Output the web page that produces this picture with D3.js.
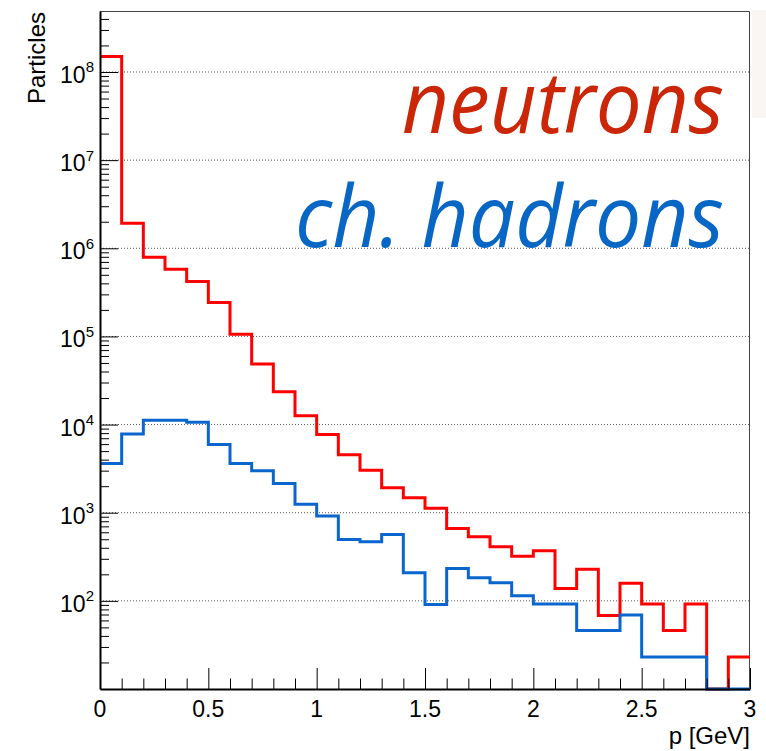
<!DOCTYPE html>
<html lang="en">

<head>
  <meta charset="utf-8">
  <title>Particles vs p</title>
  <script type="text/javascript" src="https://cdn.jsdelivr.net/npm/d3@7"></script>
  <style type="text/css">
    body { margin: 0; background: #fff; }
    text { font-family: "Liberation Sans", Arial, Helvetica, sans-serif; }
    text.name { font-family: "Open Sans", "Noto Sans", sans-serif; font-style: italic; }
  </style>
</head>

<body>
  <script type="text/javascript">
    // Bins: 30 bins of 0.1 GeV from 0 to 3
    const binLow = [0.0, 0.1, 0.2, 0.3, 0.4, 0.5, 0.6, 0.7, 0.8, 0.9,
                    1.0, 1.1, 1.2, 1.3, 1.4, 1.5, 1.6, 1.7, 1.8, 1.9,
                    2.0, 2.1, 2.2, 2.3, 2.4, 2.5, 2.6, 2.7, 2.8, 2.9];
    const binWidth = 0.1;

    const neutrons = [1.5e8, 1.92e6, 7.9e5, 5.8e5, 4.2e5, 2.43e5, 1.06e5, 4.86e4, 2.36e4, 1.26e4,
                      7700, 4540, 3040, 1920, 1480, 1120, 663, 533, 410, 321,
                      370, 138, 229, 68, 158, 92, 46, 92, 0, 23];
    const hadrons = [3620, 7800, 11200, 11200, 10600, 5960, 3620, 2990, 2150, 1250,
                     915, 498, 468, 567, 208, 91, 233, 183, 160, 114,
                     92, 92, 46, 46, 69, 23, 23, 23, 0, 0];

    const xMajor = [0, 0.5, 1, 1.5, 2, 2.5, 3];
    const xMajorLabels = ["0", "0.5", "1", "1.5", "2", "2.5", "3"];
    const yDecades = [1e2, 1e3, 1e4, 1e5, 1e6, 1e7, 1e8];
    const yExponents = ["2", "3", "4", "5", "6", "7", "8"];

    const w = 766;
    const h = 751;
    const padL = 100, padR = 750, padT = 11, padB = 689;

    const svg = d3.select("body")
      .append("svg")
      .attr("width", w)
      .attr("height", h);

    svg.append("rect").attr("width", w).attr("height", h).attr("fill", "#fff");

    // faint box peeking in on the right edge
    svg.append("rect")
      .attr("x", 752).attr("y", 10).attr("width", 14).attr("height", 108)
      .attr("fill", "#f9f6f3");

    const x = d3.scaleLinear().domain([0, 3]).range([padL, padR]);
    const y = d3.scaleLog().domain([10, Math.pow(10, 8.692)]).range([padB, padT]);

    // minor ticks on the log axis: 2..9 of each decade
    const yMinor = [];
    for (let e = 1; e <= 8; e++) {
      for (let m = 2; m <= 9; m++) {
        const v = m * Math.pow(10, e);
        if (v < y.domain()[1]) yMinor.push(v);
      }
    }
    const xMinor = d3.range(1, 30).map(i => i / 10).filter(v => Math.abs(v * 2 - Math.round(v * 2)) > 1e-6);

    // dotted grid at each decade
    svg.append("g")
      .selectAll("line")
      .data(yDecades)
      .enter()
      .append("line")
      .attr("x1", padL).attr("x2", padR)
      .attr("y1", d => y(d)).attr("y2", d => y(d))
      .attr("stroke", "#555")
      .attr("stroke-width", 1)
      .attr("stroke-dasharray", "1,2");

    // frame (top, right)
    svg.append("path")
      .attr("d", `M${padL},${padT + 0.5}H${padR - 0.5}V${padB}`)
      .attr("fill", "none")
      .attr("stroke", "#444")
      .attr("stroke-width", 1);

    // step outline of one histogram
    function stepPath(values) {
      const yv = v => v > 0 ? y(v) : padB;
      let d = "";
      values.forEach((v, i) => {
        const x0 = x(binLow[i]), x1 = x(binLow[i] + binWidth);
        d += (i === 0 ? "M" : "L") + x0 + "," + yv(v) + "L" + x1 + "," + yv(v);
      });
      return d;
    }

    svg.append("path")
      .attr("d", stepPath(neutrons))
      .attr("fill", "none")
      .attr("stroke", "#ff0000")
      .attr("stroke-width", 3);

    svg.append("path")
      .attr("d", stepPath(hadrons))
      .attr("fill", "none")
      .attr("stroke", "#0a66cc")
      .attr("stroke-width", 3);

    // y axis: major + minor ticks pointing inward
    const yAxis = svg.append("g").attr("transform", `translate(${padL},0)`);
    yAxis.call(d3.axisLeft(y).tickValues(yDecades).tickSize(-18).tickSizeOuter(0).tickFormat(""));
    yAxis.append("g").call(d3.axisLeft(y).tickValues(yMinor).tickSize(-9).tickSizeOuter(0).tickFormat(""))
      .select(".domain").remove();
    yAxis.selectAll("line").attr("stroke", "#000").attr("stroke-width", 1);
    yAxis.select(".domain").attr("stroke", "#000").attr("stroke-width", 2);

    // decade labels 10^n
    const yLabels = svg.append("g")
      .selectAll("text")
      .data(yDecades)
      .enter()
      .append("text")
      .attr("x", 94)
      .attr("y", d => y(d) + 11)
      .attr("text-anchor", "end")
      .attr("font-size", 23)
      .attr("fill", "#000");
    yLabels.append("tspan").text("10");
    yLabels.append("tspan")
      .attr("dy", -10.5)
      .attr("font-size", 15)
      .text((d, i) => yExponents[i]);

    // x axis: ticks pointing up
    const xAxis = svg.append("g").attr("transform", `translate(0,${padB})`);
    xAxis.call(d3.axisBottom(x).tickValues(xMajor).tickSize(-21).tickSizeOuter(0).tickFormat(""));
    xAxis.append("g").call(d3.axisBottom(x).tickValues(xMinor).tickSize(-10.5).tickSizeOuter(0).tickFormat(""))
      .select(".domain").remove();
    xAxis.selectAll("line").attr("stroke", "#000").attr("stroke-width", 1);
    xAxis.select(".domain").attr("stroke", "#000").attr("stroke-width", 2);

    svg.append("g")
      .selectAll("text")
      .data(xMajor)
      .enter()
      .append("text")
      .attr("x", d => x(d))
      .attr("y", 717)
      .attr("text-anchor", "middle")
      .attr("font-size", 23)
      .attr("fill", "#000")
      .text((d, i) => xMajorLabels[i]);

    // axis titles
    svg.append("text")
      .attr("x", 750)
      .attr("y", 744)
      .attr("text-anchor", "end")
      .attr("font-size", 24)
      .text("p [GeV]");

    svg.append("text")
      .attr("transform", "translate(45,12) rotate(-90)")
      .attr("text-anchor", "end")
      .attr("font-size", 24)
      .text("Particles");

    // series names
    svg.append("text")
      .attr("class", "name")
      .attr("x", 724)
      .attr("y", 133)
      .attr("text-anchor", "end")
      .attr("font-size", 86)
      .attr("textLength", 322)
      .attr("lengthAdjust", "spacingAndGlyphs")
      .attr("fill", "#cc2608")
      .text("neutrons");

    svg.append("text")
      .attr("class", "name")
      .attr("x", 724)
      .attr("y", 247)
      .attr("text-anchor", "end")
      .attr("font-size", 86)
      .attr("textLength", 429)
      .attr("lengthAdjust", "spacingAndGlyphs")
      .attr("fill", "#0866c4")
      .text("ch. hadrons");
  </script>
</body>

</html>
